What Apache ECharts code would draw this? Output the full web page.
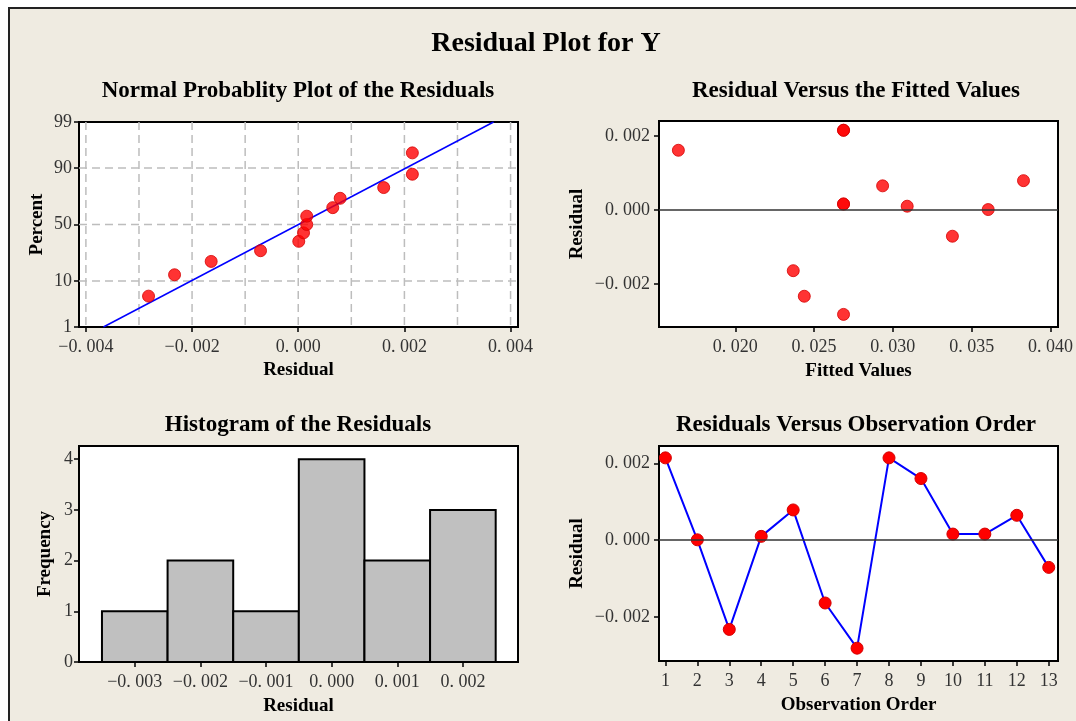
<!DOCTYPE html>
<html>
<head>
<meta charset="utf-8">
<title>Residual Plot for Y</title>
<script src="https://cdn.jsdelivr.net/npm/echarts@6/dist/echarts.min.js"></script>
<style>
html, body { margin: 0; padding: 0; background: #fff; overflow: hidden; }
#frame { position: absolute; left: 8px; top: 7px; width: 1080px; height: 720px; border: 2px solid #222; background: #EFEBE1; }
#main { position: absolute; left: 0; top: 0; width: 1076px; height: 721px; }
</style>
</head>
<body>
<div id="frame"></div>
<div id="main"></div>
<script>
// residuals and fitted values, in observation order
var obsOrder = [1, 2, 3, 4, 5, 6, 7, 8, 9, 10, 11, 12, 13];
var residuals = [0.00215, 0.00001, -0.00233, 0.00010, 0.00079, -0.00164, -0.00282, 0.00215, 0.00161, 0.00016, 0.00016, 0.00065, -0.00071];
var fittedValues = [0.02687, 0.03605, 0.02438, 0.03091, 0.03829, 0.02368, 0.02687, 0.02687, 0.01639, 0.02687, 0.02687, 0.02935, 0.03378];

// normal probability plot
var normPercent = [5.2, 12.7, 20.1, 27.6, 35.1, 42.5, 50.0, 57.5, 64.9, 72.4, 79.9, 87.3, 94.8];
var fitResidual = [-0.00367, 0.00368];
var fitPercent = [1, 99];
var probTicks = [1, 10, 50, 90, 99];
var probGrid = [10, 50, 90];
var normXTicks = [-0.004, -0.002, 0, 0.002, 0.004];
var normXGrid = [-0.004, -0.003, -0.002, -0.001, 0, 0.001, 0.002, 0.003, 0.004];

// histogram
var binCenters = [-0.003, -0.002, -0.001, 0, 0.001, 0.002];
var binCounts = [1, 2, 1, 4, 2, 3];
var binWidth = 0.001;

var residTicks = [-0.002, 0, 0.002];
var fittedTicks = [0.020, 0.025, 0.030, 0.035, 0.040];

var chart = echarts.init(document.getElementById('main'));

// inverse normal cdf (Acklam)
function probToZ(p) {
    var a = [-3.969683028665376e+01, 2.209460984245205e+02, -2.759285104469687e+02, 1.383577518672690e+02, -3.066479806614716e+01, 2.506628277459239e+00];
    var b = [-5.447609879822406e+01, 1.615858368580409e+02, -1.556989798598866e+02, 6.680131188771972e+01, -1.328068155288572e+01];
    var c = [-7.784894002430293e-03, -3.223964580411365e-01, -2.400758277161838e+00, -2.549732539343734e+00, 4.374664141464968e+00, 2.938163982698783e+00];
    var d = [7.784695709041462e-03, 3.224671290700398e-01, 2.445134137142996e+00, 3.754408661907416e+00];
    var pl = 0.02425, q, r;
    if (p < pl) {
        q = Math.sqrt(-2 * Math.log(p));
        return (((((c[0]*q+c[1])*q+c[2])*q+c[3])*q+c[4])*q+c[5]) / ((((d[0]*q+d[1])*q+d[2])*q+d[3])*q+1);
    }
    if (p > 1 - pl) {
        q = Math.sqrt(-2 * Math.log(1 - p));
        return -(((((c[0]*q+c[1])*q+c[2])*q+c[3])*q+c[4])*q+c[5]) / ((((d[0]*q+d[1])*q+d[2])*q+d[3])*q+1);
    }
    q = p - 0.5; r = q * q;
    return (((((a[0]*r+a[1])*r+a[2])*r+a[3])*r+a[4])*r+a[5])*q / (((((b[0]*r+b[1])*r+b[2])*r+b[3])*r+b[4])*r+1);
}

function fmtNum(v) {
    var s = Math.abs(v).toFixed(3).replace('.', '. ');
    return (v < -1e-9 ? '\u2212' : '') + s;
}

var sortedRes = residuals.slice().sort(function (a, b) { return a - b; });
var probTickZ = probTicks.map(function (p) { return probToZ(p / 100); });

var serif = "'Liberation Serif', 'Times New Roman', serif";
var tickLabel = { color: '#333', fontFamily: serif, fontSize: 18 };
var nameStyle = { color: '#000', fontFamily: serif, fontSize: 19, fontWeight: 'bold' };
var tickStyle = { show: true, inside: false, length: 5, lineStyle: { color: '#000', width: 1.5 } };
var titleFont = 'bold 23px ' + serif;
var dotStyle = { color: '#FF0000', borderColor: '#D40000', borderWidth: 1 };

function makeAxis(o) {
    var ax = {
        type: 'value',
        gridIndex: o.grid,
        min: o.min,
        max: o.max,
        name: o.name,
        nameLocation: 'middle',
        nameGap: o.gap,
        nameTextStyle: nameStyle,
        axisLine: { show: false, onZero: false },
        axisTick: echarts.util.merge({ customValues: o.ticks }, tickStyle),
        axisLabel: echarts.util.merge({ customValues: o.ticks, margin: o.margin, formatter: o.fmt }, tickLabel),
        splitLine: { show: false }
    };
    if (o.rotate) ax.nameRotate = 90;
    return ax;
}

// dashed reference lines across the whole plot area
function gridLineItem(vertical) {
    return function (params, api) {
        var cs = params.coordSys;
        var p = api.coord([api.value(0), api.value(1)]);
        var shape = vertical
            ? { x1: p[0], y1: cs.y, x2: p[0], y2: cs.y + cs.height }
            : { x1: cs.x, y1: p[1], x2: cs.x + cs.width, y2: p[1] };
        return { type: 'line', shape: shape, style: { stroke: '#BDBDBD', lineWidth: 1.5, lineDash: [8, 5] } };
    };
}

var gridBase = { show: true, backgroundColor: '#fff', borderColor: '#000', borderWidth: 2, containLabel: false };

var option = {
    animation: false,
    graphic: [
        { type: 'text', x: 546, y: 44, style: { text: 'Residual Plot for Y', font: 'bold 28px ' + serif, fill: '#000', align: 'center', verticalAlign: 'middle' } },
        { type: 'text', x: 298, y: 91, style: { text: 'Normal Probablity Plot of the Residuals', font: titleFont, fill: '#000', align: 'center', verticalAlign: 'middle' } },
        { type: 'text', x: 856, y: 91, style: { text: 'Residual Versus the Fitted Values', font: titleFont, fill: '#000', align: 'center', verticalAlign: 'middle' } },
        { type: 'text', x: 298, y: 425, style: { text: 'Histogram of the Residuals', font: titleFont, fill: '#000', align: 'center', verticalAlign: 'middle' } },
        { type: 'text', x: 856, y: 425, style: { text: 'Residuals Versus Observation Order', font: titleFont, fill: '#000', align: 'center', verticalAlign: 'middle' } }
    ],
    grid: [
        echarts.util.merge({ left: 79, top: 122, width: 439, height: 205 }, gridBase),
        echarts.util.merge({ left: 659, top: 121, width: 399, height: 206 }, gridBase),
        echarts.util.merge({ left: 79, top: 446, width: 439, height: 216 }, gridBase),
        echarts.util.merge({ left: 659, top: 446, width: 399, height: 215 }, gridBase)
    ],
    xAxis: [
        makeAxis({ grid: 0, min: -0.00413, max: 0.00414, name: 'Residual', gap: 34, ticks: normXTicks, margin: 11, fmt: fmtNum }),
        makeAxis({ grid: 1, min: 0.01516, max: 0.04048, name: 'Fitted Values', gap: 35, ticks: fittedTicks, margin: 11, fmt: fmtNum }),
        makeAxis({ grid: 2, min: -0.00385, max: 0.00284, name: 'Residual', gap: 35, ticks: binCenters, margin: 11, fmt: fmtNum }),
        makeAxis({ grid: 3, min: 0.8, max: 13.29, name: 'Observation Order', gap: 35, ticks: obsOrder, margin: 11, fmt: function (v) { return String(Math.round(v)); } })
    ],
    yAxis: [
        makeAxis({ grid: 0, min: probTickZ[0], max: probTickZ[probTickZ.length - 1], name: 'Percent', gap: 32, rotate: true, ticks: probTickZ, margin: 7,
            fmt: function (v) {
                for (var i = 0; i < probTickZ.length; i++) {
                    if (Math.abs(probTickZ[i] - v) < 1e-6) return String(probTicks[i]);
                }
                return '';
            } }),
        makeAxis({ grid: 1, min: -0.00316, max: 0.0024, name: 'Residual', gap: 72, rotate: true, ticks: residTicks, margin: 9, fmt: fmtNum }),
        makeAxis({ grid: 2, min: 0, max: 4.26, name: 'Frequency', gap: 24, rotate: true, ticks: [0, 1, 2, 3, 4], margin: 6, fmt: function (v) { return String(Math.round(v)); } }),
        makeAxis({ grid: 3, min: -0.003155, max: 0.00246, name: 'Residual', gap: 72, rotate: true, ticks: residTicks, margin: 9, fmt: fmtNum })
    ],
    series: [
        {
            type: 'custom',
            xAxisIndex: 0,
            yAxisIndex: 0,
            z: 1,
            silent: true,
            data: normXGrid.map(function (v) { return [v, 0]; }),
            renderItem: gridLineItem(true)
        },
        {
            type: 'custom',
            xAxisIndex: 0,
            yAxisIndex: 0,
            z: 1,
            silent: true,
            data: probGrid.map(function (p) { return [0, probToZ(p / 100)]; }),
            renderItem: gridLineItem(false)
        },
        {
            type: 'line',
            xAxisIndex: 0,
            yAxisIndex: 0,
            z: 2,
            showSymbol: false,
            lineStyle: { color: '#0000FF', width: 1.5 },
            data: fitResidual.map(function (r, i) { return [r, probToZ(fitPercent[i] / 100)]; })
        },
        {
            type: 'scatter',
            xAxisIndex: 0,
            yAxisIndex: 0,
            z: 3,
            symbolSize: 12,
            itemStyle: dotStyle,
            data: sortedRes.map(function (r, i) { return [r, probToZ(normPercent[i] / 100)]; })
        },
        {
            type: 'scatter',
            xAxisIndex: 1,
            yAxisIndex: 1,
            z: 3,
            symbolSize: 12,
            itemStyle: dotStyle,
            data: fittedValues.map(function (f, i) { return [f, residuals[i]]; }),
            markLine: {
                silent: true,
                symbol: ['none', 'none'],
                label: { show: false },
                lineStyle: { color: '#333', width: 1.5, type: 'solid' },
                data: [{ yAxis: 0 }]
            }
        },
        {
            type: 'custom',
            xAxisIndex: 2,
            yAxisIndex: 2,
            encode: { x: 0, y: 1 },
            data: binCenters.map(function (c, i) { return [c, binCounts[i]]; }),
            renderItem: function (params, api) {
                var p0 = api.coord([api.value(0) - binWidth / 2, api.value(1)]);
                var p1 = api.coord([api.value(0) + binWidth / 2, 0]);
                return {
                    type: 'rect',
                    shape: { x: p0[0], y: p0[1], width: p1[0] - p0[0], height: p1[1] - p0[1] },
                    style: { fill: '#C0C0C0', stroke: '#000', lineWidth: 2 }
                };
            }
        },
        {
            type: 'line',
            xAxisIndex: 3,
            yAxisIndex: 3,
            z: 3,
            symbol: 'circle',
            symbolSize: 12,
            itemStyle: dotStyle,
            lineStyle: { color: '#0000FF', width: 2 },
            data: obsOrder.map(function (o, i) { return [o, residuals[i]]; }),
            markLine: {
                silent: true,
                symbol: ['none', 'none'],
                label: { show: false },
                lineStyle: { color: '#333', width: 1.5, type: 'solid' },
                data: [{ yAxis: 0 }]
            }
        }
    ]
};

chart.setOption(option);
</script>
</body>
</html>
